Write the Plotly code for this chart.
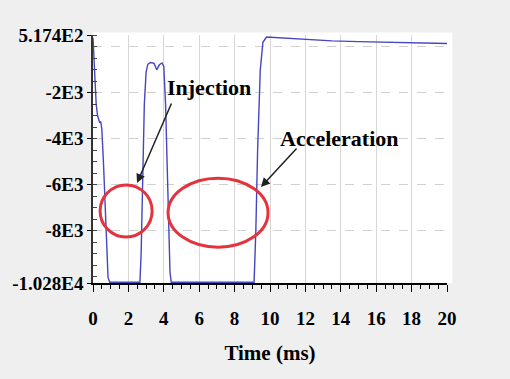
import plotly.graph_objects as go

# Pressure-like signal over time (ms)
time_ms = [0.0, 0.04, 0.1, 0.18, 0.26, 0.33, 0.38, 0.44, 0.5, 0.6, 0.72, 0.85, 0.95,
           2.65, 2.72, 2.8, 2.9, 3.0, 3.1, 3.25, 3.45, 3.6, 3.75, 3.9, 4.0, 4.1, 4.22, 4.35, 4.42,
           9.1, 9.2, 9.3, 9.45, 9.6, 9.8, 10.2, 10.8, 11.5, 12.5, 13.5, 15.0, 16.5, 18.0, 19.0, 20.0]
signal = [400, -300, -1500, -2500, -3000, -3200, -3300, -3250, -3600, -5200, -7800, -10050, -10250,
          -10250, -9000, -6000, -2500, -1100, -750, -680, -720, -1000, -780, -700, -850, -2500, -6500, -9800, -10250,
          -10250, -8000, -4500, -1000, 200, 430, 410, 380, 330, 290, 260, 230, 205, 185, 170, 150]

y_tickvals = [517.4, -2000, -4000, -6000, -8000, -10280]
y_ticktext = ["5.174E2", "-2E3", "-4E3", "-6E3", "-8E3", "-1.028E4"]
grid_vals = [0, -2000, -4000, -6000, -8000]
x_tickvals = [0, 2, 4, 6, 8, 10, 12, 14, 16, 18, 20]

y_range = [-10280, 517.4]
x_range = [0, 20]

# Highlighted regions (time span, value span)
injection_zone = dict(t0=0.4, t1=3.34, v0=-8275, v1=-6010)
accel_zone = dict(t0=4.24, t1=9.89, v0=-8720, v1=-5715)

serif = dict(family="Liberation Serif", color="black", weight="bold")

fig = go.Figure()
fig.add_trace(go.Scatter(x=time_ms, y=signal, mode="lines",
                         line=dict(color="#4646c0", width=1.4), showlegend=False))
# empty trace so the dashed horizontal grid axis is rendered
fig.add_trace(go.Scatter(x=[None], y=[None], yaxis="y2", showlegend=False))

for z in (injection_zone, accel_zone):
    fig.add_shape(type="circle", xref="x", yref="y",
                  x0=z["t0"], x1=z["t1"], y0=z["v0"], y1=z["v1"],
                  line=dict(color="#e5333d", width=3))

# white plotting panel slightly larger than the axes box
fig.add_shape(type="rect", xref="paper", yref="paper", x0=0, x1=1.015, y0=0, y1=1.01,
              fillcolor="white", line=dict(width=0), layer="below")

fig.add_annotation(x=6.55, y=-1750, text="Injection", showarrow=False,
                   font=dict(size=22, **serif))
fig.add_annotation(x=13.95, y=-3970, text="Acceleration", showarrow=False,
                   font=dict(size=22, **serif))
fig.add_annotation(x=2.49, y=-5925, ax=35, ay=-81, text="", showarrow=True,
                   arrowhead=2, arrowsize=1.2, arrowwidth=1.5, arrowcolor="#222222")
fig.add_annotation(x=9.49, y=-6100, ax=37, ay=-40, text="", showarrow=True,
                   arrowhead=2, arrowsize=1.2, arrowwidth=1.5, arrowcolor="#222222")

fig.update_layout(
    width=510, height=379,
    margin=dict(l=93, r=63, t=35, b=96),
    paper_bgcolor="#efefef", plot_bgcolor="white",
    xaxis=dict(range=x_range, tickvals=x_tickvals, showgrid=True, gridcolor="#d6d6d6",
               gridwidth=1, zeroline=False, showline=True, linecolor="black", linewidth=2,
               ticks="outside", ticklen=7, tickcolor="black", tickwidth=1.2,
               ticklabelstandoff=10,
               minor=dict(dtick=0.5, ticks="outside", ticklen=4, tickcolor="black", showgrid=False),
               tickfont=dict(size=19, **serif),
               title=dict(text="Time (ms)", font=dict(size=21, **serif), standoff=18)),
    yaxis=dict(range=y_range, tickvals=y_tickvals, ticktext=y_ticktext, showgrid=False,
               zeroline=False, showline=True, linecolor="#333333", linewidth=1.5,
               ticks="outside", ticklen=4, tickcolor="black",
               minor=dict(dtick=500, tick0=0, ticks="inside", ticklen=4, tickcolor="#444444", showgrid=False),
               tickfont=dict(size=19, **serif)),
    yaxis2=dict(range=y_range, overlaying="y", side="left", tickvals=grid_vals,
                showticklabels=False, ticks="", showline=False, zeroline=False,
                showgrid=True, gridcolor="#d0d0d0", griddash="dash", gridwidth=1),
)

fig.write_html("out.html")
